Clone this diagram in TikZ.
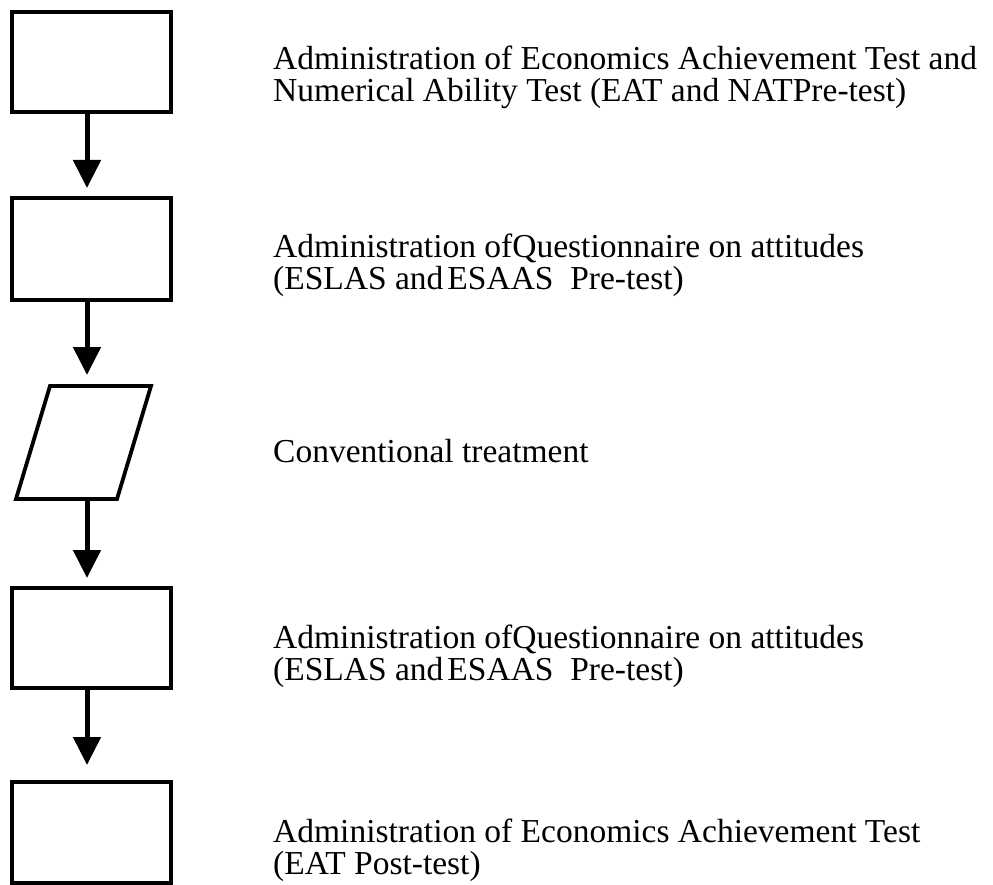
\documentclass[tikz,border=0pt]{standalone}
\usepackage{fontspec}
\setmainfont{Liberation Serif}
\usetikzlibrary{arrows.meta}
\begin{document}
\begin{tikzpicture}[x=1pt,y=-1pt,
  stepbox/.style={draw,line width=3.8pt,minimum width=159pt,inner sep=0pt,outer sep=0pt},
  flow/.style={line width=5pt,-{Triangle[length=28pt,width=27pt]}},
  caption/.style={anchor=base west,inner sep=0pt,align=left,
    font=\fontsize{33.5}{32}\selectfont}]
\useasboundingbox (0,0) rectangle (993,885);

% process boxes
\node[stepbox,minimum height=100pt] (b1) at (91.5,62) {};
\node[stepbox,minimum height=102pt] (b2) at (91.5,249) {};
\node[stepbox,minimum height=100pt] (b4) at (91.5,638) {};
\node[stepbox,minimum height=101pt] (b5) at (91.5,832.5) {};

% input/output step (parallelogram)
\coordinate (ptl) at (50,386);
\coordinate (ptr) at (151,386);
\coordinate (pbr) at (117,499);
\coordinate (pbl) at (16,499);
\draw[line width=3.8pt,line join=miter] (ptl) -- (ptr) -- (pbr) -- (pbl) -- cycle;

% column of the arrows
\coordinate (ax) at (87,0);
\coordinate (pin) at (87,386);
\coordinate (pout) at (87,499);

\draw[flow,shorten >=10pt] (b1.south -| ax) -- (b2.north -| ax);
\draw[flow,shorten >=11pt] (b2.south -| ax) -- (pin);
\draw[flow,shorten >=10pt] (pout) -- (b4.north -| ax);
\draw[flow,shorten >=17pt] (b4.south -| ax) -- (b5.north -| ax);

% step descriptions (base anchor sits on the last line)
\node[caption] (t1) at (273,102) {Administration of Economics Achievement Test and\\Numerical Ability Test (EAT and NATPre-test)};
\node[caption] (t2) at (273,290) {Administration ofQuestionnaire on attitudes\\(ESLAS and\hspace{0.12em}ESAAS\ \ Pre-test)};
\node[caption] (t3) at (273,462) {Conventional treatment};
\node[caption] (t4) at (273,680) {Administration ofQuestionnaire on attitudes\\(ESLAS and\hspace{0.12em}ESAAS\ \ Pre-test)};
\node[caption] (t5) at (273,874) {Administration of Economics Achievement Test\\(EAT Post-test)};
\end{tikzpicture}
\end{document}
